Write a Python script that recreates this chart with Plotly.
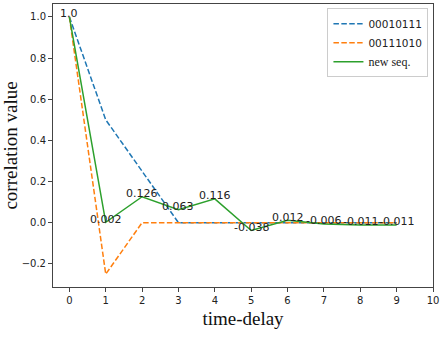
import plotly.graph_objects as go

delays = [0, 1, 2, 3, 4, 5, 6, 7, 8, 9]
seq_a = [1.0, 0.5, 0.25, 0.0, 0.0, 0.0, 0.0, 0.0, 0.0, 0.0]
seq_b = [1.0, -0.25, 0.0, 0.0, 0.0, 0.0, 0.0, 0.0, 0.0, 0.0]
seq_new = [1.0, 0.002, 0.126, 0.063, 0.116, -0.038, 0.012, -0.006, -0.011, -0.011]
labels_new = ["1.0", "0.002", "0.126", "0.063", "0.116", "-0.038", "0.012", "-0.006", "-0.011", "-0.011"]
names = ["00010111", "00111010", "new seq."]
colors = ["#1f77b4", "#ff7f0e", "#2ca02c"]

fig = go.Figure()
fig.add_trace(go.Scatter(x=delays, y=seq_a, mode="lines", name=names[0],
                         line=dict(color=colors[0], width=1.5, dash="5.5px,2.4px")))
fig.add_trace(go.Scatter(x=delays, y=seq_b, mode="lines", name=names[1],
                         line=dict(color=colors[1], width=1.5, dash="5.5px,2.4px")))
fig.add_trace(go.Scatter(x=delays, y=seq_new, mode="lines",
                         name='<span style="font-family:Liberation Serif;font-size:12px">' + names[2] + '</span>',
                         line=dict(color=colors[2], width=1.5)))

for xv, yv, t in zip(delays, seq_new, labels_new):
    fig.add_annotation(x=xv, y=yv, text=t, showarrow=False, yshift=3,
                       font=dict(family="DejaVu Sans", size=11, color="#222"))

axis_common = dict(showgrid=False, zeroline=False, showline=True, mirror=True,
                   linecolor="#444", linewidth=1, ticks="outside", ticklen=4,
                   tickcolor="#444", automargin=False,
                   tickfont=dict(family="DejaVu Sans", size=10, color="#222"))

fig.update_xaxes(range=[-0.45, 10], tickvals=list(range(0, 11)),
                 title=dict(text="time-delay", font=dict(family="Liberation Serif", size=19, color="#111"), standoff=6),
                 **axis_common)
fig.update_yaxes(range=[-0.3125, 1.0625], tickvals=[-0.2, 0.0, 0.2, 0.4, 0.6, 0.8, 1.0],
                 ticktext=["\u22120.2", "0.0", "0.2", "0.4", "0.6", "0.8", "1.0"],
                 title=dict(text="correlation value", font=dict(family="Liberation Serif", size=19, color="#111"), standoff=6),
                 **axis_common)

fig.update_layout(
    width=445, height=337,
    margin=dict(l=53, r=12, t=4, b=50),
    plot_bgcolor="white", paper_bgcolor="white",
    legend=dict(x=0.988, y=0.985, xanchor="right", yanchor="top",
                bgcolor="white", bordercolor="#ccc", borderwidth=1,
                font=dict(family="DejaVu Sans", size=10.5, color="#222"),
                tracegroupgap=0, itemwidth=30),
)

fig.write_html("out.html", config={"displayModeBar": False},
               post_script="document.body.style.margin='0';")
